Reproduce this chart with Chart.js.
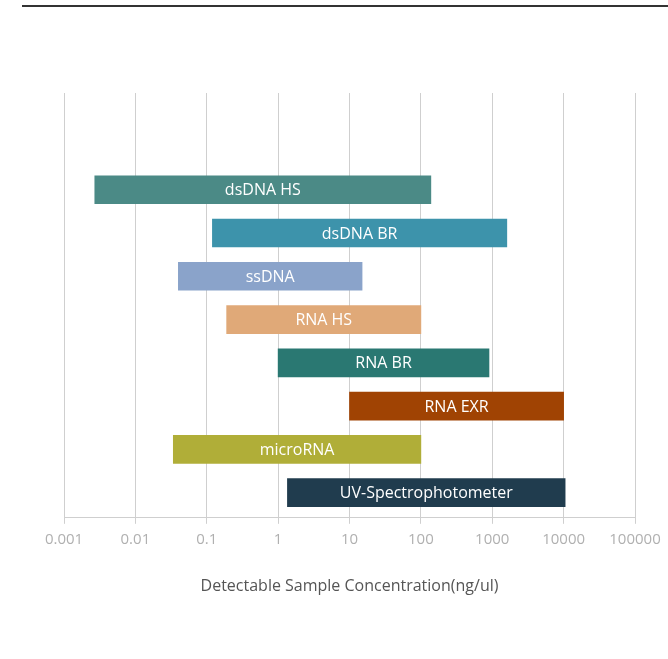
<!DOCTYPE html>
<html>
<head>
<meta charset="utf-8">
<script src="https://cdn.jsdelivr.net/npm/chart.js@4/dist/chart.umd.min.js"></script>
<style>
html,body{margin:0;padding:0;background:#fff;}
#wrap{position:relative;width:668px;height:659px;}
#topline{position:absolute;left:22px;top:5px;width:646px;height:0;border-top:2px solid #333;}
#c{position:absolute;left:0;top:0;}
</style>
</head>
<body>
<div id="wrap">
<div id="topline"></div>
<canvas id="c" width="668" height="659"></canvas>
</div>
<script>
const categories = ['dsDNA HS','dsDNA BR','ssDNA','RNA HS','RNA BR','RNA EXR','microRNA','UV-Spectrophotometer'];
const rangeStart = [0.0027, 0.12, 0.04, 0.19, 1, 10, 0.034, 1.35];
const rangeEnd   = [138, 1600, 15, 100, 900, 10000, 100, 10500];
const barColors  = ['#4b8a86','#3d93ab','#8aa3ca','#e0a978','#2a7872','#a04303','#b0ae38','#203c4e'];
const tickValues = [0.001, 0.01, 0.1, 1, 10, 100, 1000, 10000, 100000];
const tickLabels = ['0.001','0.01','0.1','1','10','100','1000','10000','100000'];
const axisTitle = 'Detectable Sample Concentration(ng/ul)';

const data = categories.map((c, i) => ({ y: i + 1, x: [rangeStart[i], rangeEnd[i]], label: c }));

const barLabels = {
  id: 'barLabels',
  afterDatasetsDraw(chart) {
    const ctx = chart.ctx;
    const meta = chart.getDatasetMeta(0);
    ctx.save();
    ctx.font = '16px "Open Sans", "Noto Sans", sans-serif';
    ctx.fillStyle = '#ffffff';
    ctx.textAlign = 'center';
    ctx.textBaseline = 'middle';
    meta.data.forEach((el, i) => {
      const p = el.getProps(['x', 'y', 'base'], true);
      const cx = (p.x + p.base) / 2;
      ctx.fillText(categories[i], cx, p.y + 1);
    });
    ctx.restore();
  }
};

new Chart(document.getElementById('c'), {
  type: 'bar',
  data: {
    datasets: [{
      data: data,
      backgroundColor: barColors,
      borderWidth: 0,
      barThickness: 28
    }]
  },
  plugins: [barLabels],
  options: {
    indexAxis: 'y',
    responsive: false,
    animation: false,
    layout: { padding: { top: 93, left: 64, right: 33, bottom: 59 } },
    plugins: { legend: { display: false }, tooltip: { enabled: false } },
    scales: {
      x: {
        type: 'logarithmic',
        min: 0.001,
        max: 100000,
        afterBuildTicks(scale) { scale.ticks = tickValues.map(v => ({ value: v, major: true })); },
        afterFit(scale) { scale.paddingLeft = 0; scale.paddingRight = 0; },
        ticks: {
          autoSkip: false,
          maxRotation: 0,
          color: '#b0b0b0',
          font: { family: '"Open Sans", "Noto Sans", sans-serif', size: 15 },
          padding: 7,
          callback: (v) => { const i = tickValues.indexOf(v); return i >= 0 ? tickLabels[i] : ''; }
        },
        grid: { color: '#cfcfcf', lineWidth: 1, tickLength: 6, drawTicks: true },
        border: { color: '#cfcfcf' },
        title: {
          display: true,
          text: axisTitle,
          color: '#555555',
          font: { family: '"Open Sans", "Noto Sans", sans-serif', size: 16 },
          padding: { top: 21 }
        }
      },
      y: {
        type: 'linear',
        reverse: true,
        offset: false,
        min: -1.235,
        max: 8.58,
        display: false,
        grid: { display: false, offset: false }
      }
    }
  }
});
</script>
</body>
</html>
